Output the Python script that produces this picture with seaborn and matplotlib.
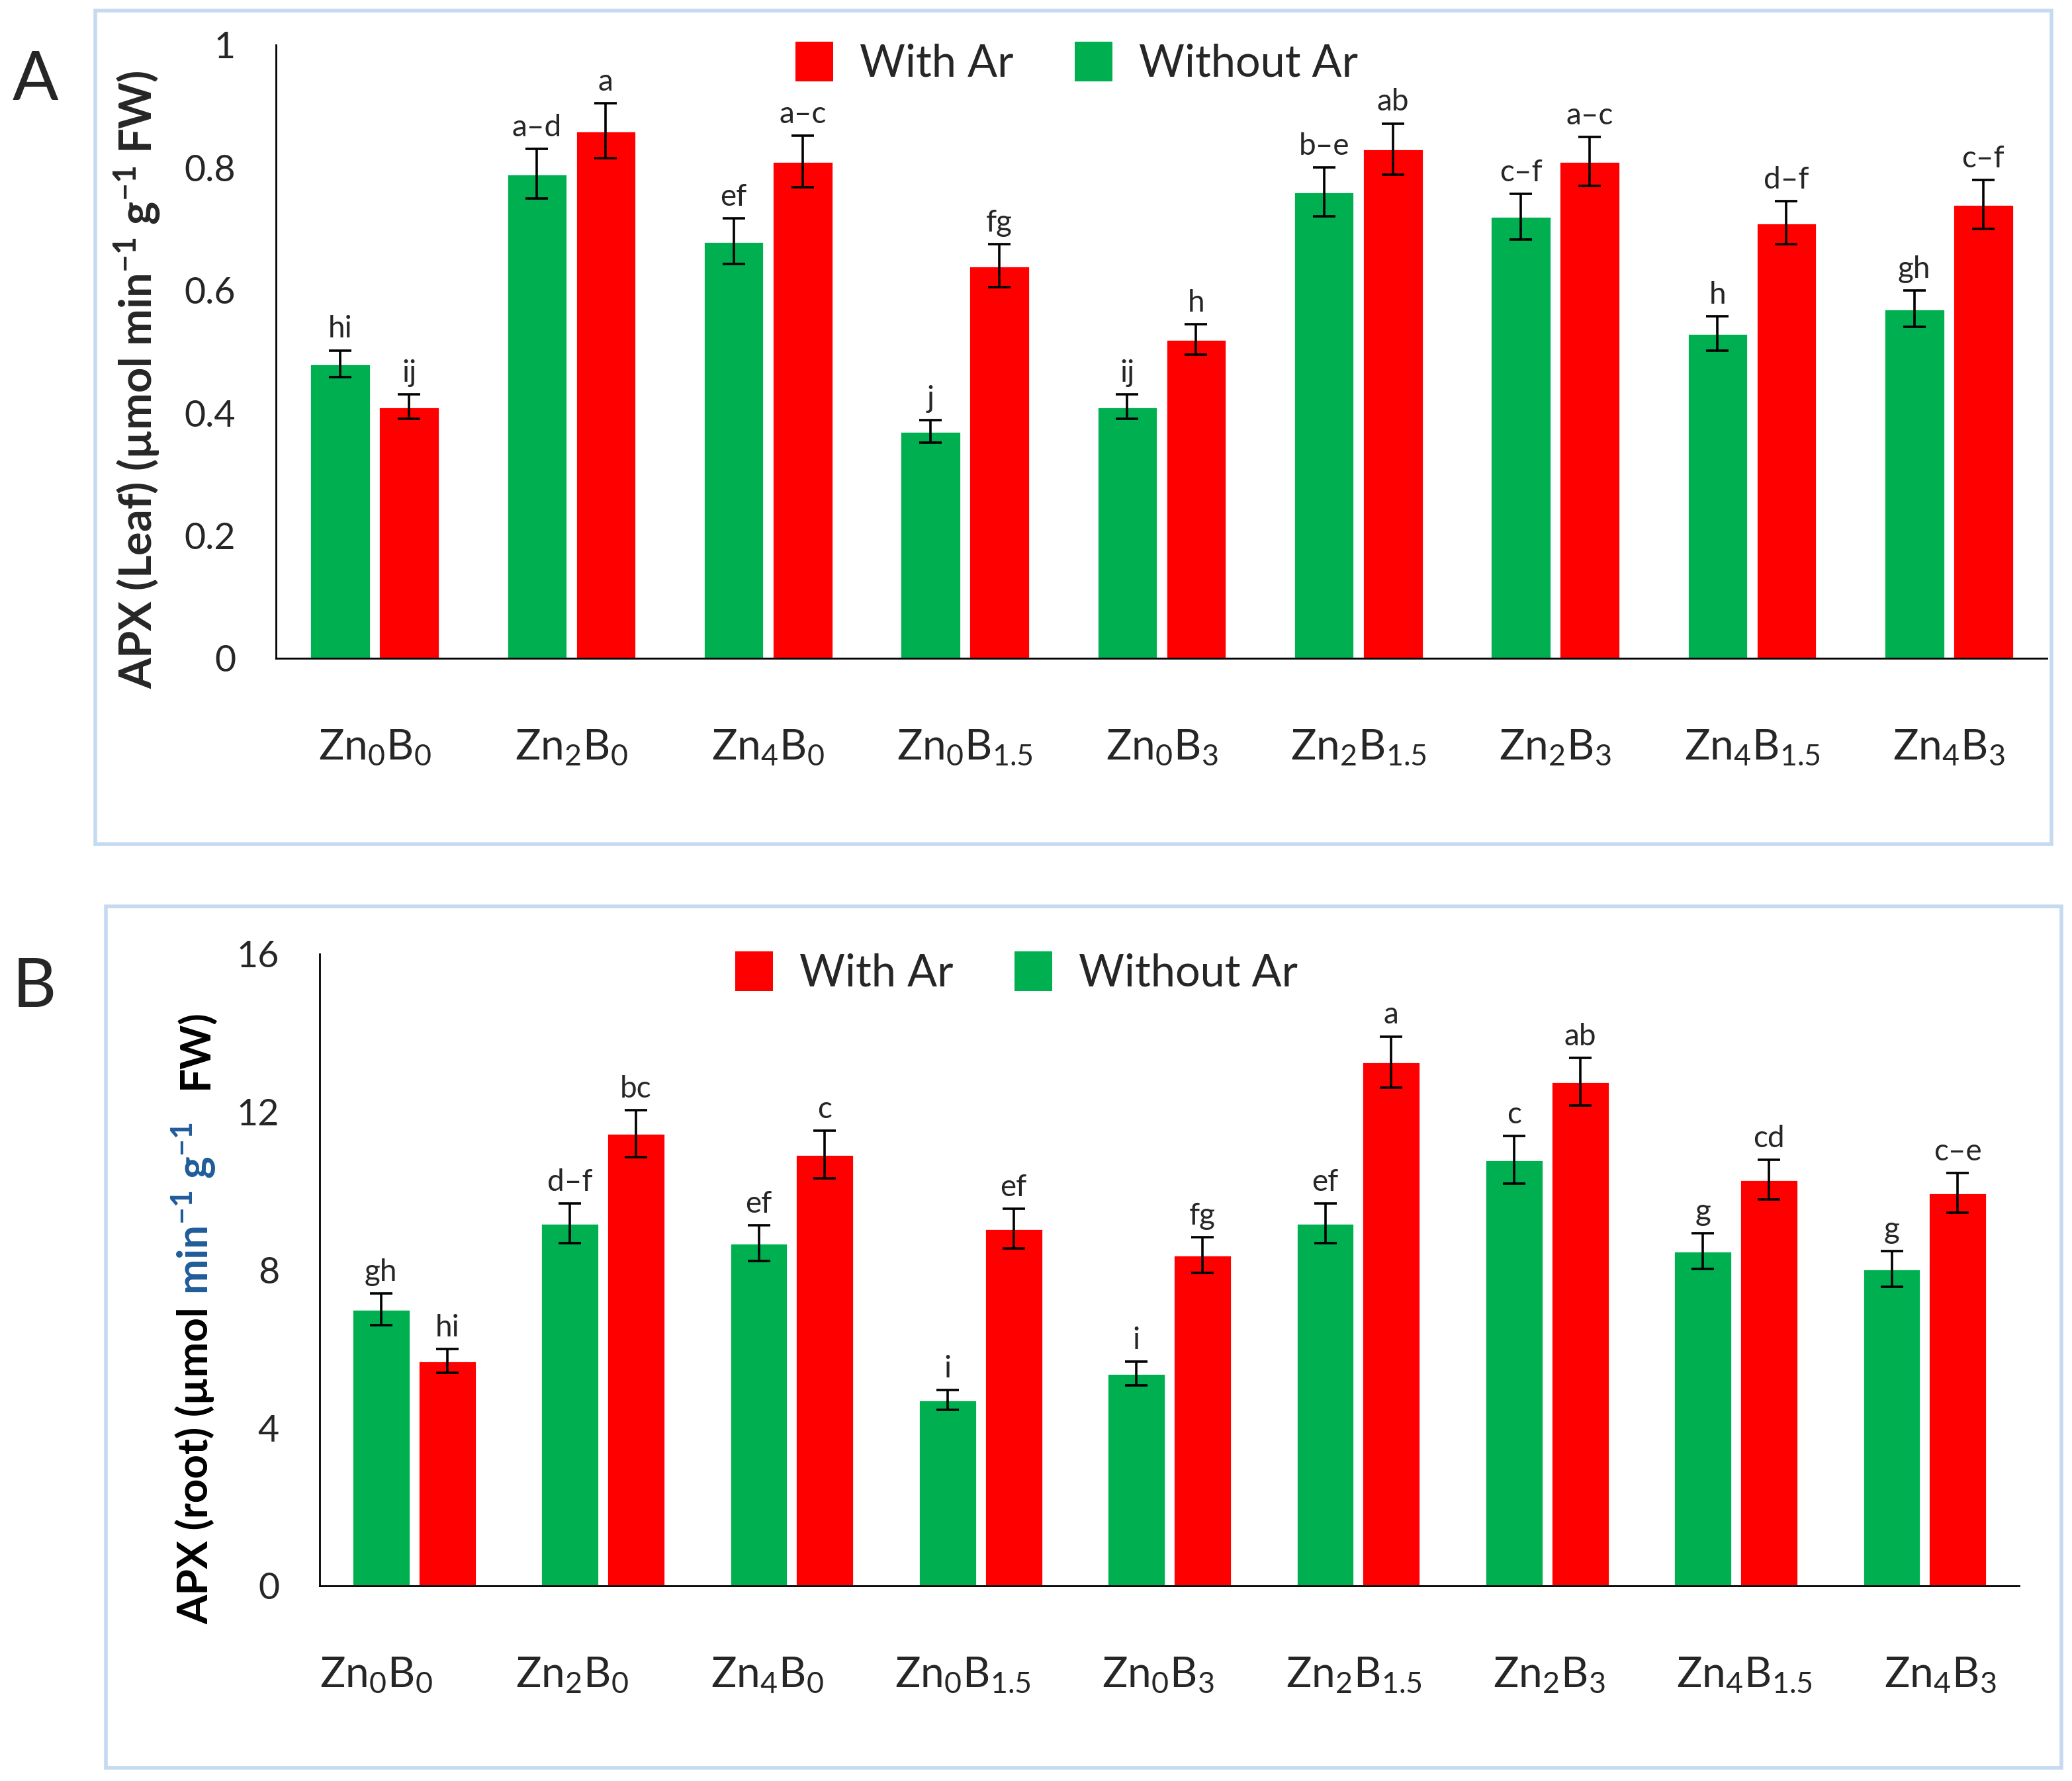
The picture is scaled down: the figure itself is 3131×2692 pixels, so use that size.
import pandas as pd
import numpy as np
import matplotlib
matplotlib.use("Agg")
import matplotlib.pyplot as plt
import seaborn as sns
from matplotlib.patches import Patch, Rectangle

treatments = [r"Zn$_0$B$_0$", r"Zn$_2$B$_0$", r"Zn$_4$B$_0$", r"Zn$_0$B$_{1.5}$", r"Zn$_0$B$_3$",
              r"Zn$_2$B$_{1.5}$", r"Zn$_2$B$_3$", r"Zn$_4$B$_{1.5}$", r"Zn$_4$B$_3$"]

leaf_without = [0.48, 0.79, 0.68, 0.37, 0.41, 0.76, 0.72, 0.53, 0.57]
leaf_with = [0.41, 0.86, 0.81, 0.64, 0.52, 0.83, 0.81, 0.71, 0.74]
leaf_without_err = [0.022, 0.04, 0.037, 0.018, 0.02, 0.04, 0.037, 0.028, 0.03]
leaf_with_err = [0.02, 0.045, 0.042, 0.035, 0.025, 0.042, 0.04, 0.035, 0.04]
leaf_without_let = ["hi", "a–d", "ef", "j", "ij", "b–e", "c–f", "h", "gh"]
leaf_with_let = ["ij", "a", "a–c", "fg", "h", "ab", "a–c", "d–f", "c–f"]

root_without = [7.0, 9.18, 8.68, 4.71, 5.38, 9.18, 10.79, 8.48, 8.02]
root_with = [5.7, 11.45, 10.92, 9.05, 8.38, 13.26, 12.76, 10.29, 9.95]
root_without_err = [0.4, 0.5, 0.45, 0.25, 0.3, 0.5, 0.6, 0.45, 0.45]
root_with_err = [0.3, 0.6, 0.6, 0.5, 0.45, 0.65, 0.6, 0.5, 0.5]
root_without_let = ["gh", "d–f", "ef", "i", "i", "ef", "c", "g", "g"]
root_with_let = ["hi", "bc", "c", "ef", "fg", "a", "ab", "cd", "c–e"]

GREEN = "#00b050"
RED = "#ff0000"
hue_order = ["Without Ar", "With Ar"]
palette = {"Without Ar": GREEN, "With Ar": RED}

sns.set_style("white")
plt.rcParams["font.family"] = ["Lato", "DejaVu Sans"]
plt.rcParams["mathtext.fontset"] = "custom"
plt.rcParams["mathtext.rm"] = "Lato"
plt.rcParams["mathtext.default"] = "regular"


def make_df(without, with_):
    return pd.DataFrame({
        "treatment": treatments * 2,
        "group": ["Without Ar"] * len(treatments) + ["With Ar"] * len(treatments),
        "value": list(without) + list(with_),
    })


def draw_panel(ax, df, errs, letters, ymax, yticks, ticklabels, legend_x):
    sns.barplot(data=df, x="treatment", y="value", hue="group", hue_order=hue_order,
                palette=palette, width=0.7, gap=0.12, errorbar=None, saturation=1,
                ax=ax, legend=False)
    for cont, err, lets in zip(ax.containers, errs, letters):
        xs = [p.get_x() + p.get_width() / 2 for p in cont]
        hs = [p.get_height() for p in cont]
        ax.errorbar(xs, hs, yerr=err, fmt="none", ecolor="black", elinewidth=1.3,
                    capsize=6, capthick=1.3, zorder=5)
        for x, h, e, s in zip(xs, hs, err, lets):
            ax.annotate(s, (x, h + e), xytext=(0, 4), textcoords="offset points",
                        ha="center", va="bottom", fontsize=16.5)
    ax.set_xlim(-0.5, len(treatments) - 0.5)
    ax.set_ylim(0, ymax)
    ax.set_yticks(yticks)
    ax.set_yticklabels(ticklabels)
    ax.set_xlabel("")
    ax.set_ylabel("")
    ax.tick_params(axis="x", length=0, pad=38, labelsize=23)
    ax.tick_params(axis="y", length=0, pad=22, labelsize=20)
    sns.despine(ax=ax)
    for sp in ["left", "bottom"]:
        ax.spines[sp].set_color("black")
        ax.spines[sp].set_linewidth(1.0)
    handles = [Patch(facecolor=RED, edgecolor="none"), Patch(facecolor=GREEN, edgecolor="none")]
    ax.legend(handles, ["With Ar", "Without Ar"], loc="center", bbox_to_anchor=(legend_x, 0.97),
              ncol=2, frameon=False, fontsize=24, handlelength=0.85, handleheight=1.0,
              handletextpad=0.6, columnspacing=1.4)


fig = plt.figure(figsize=(15.655, 13.46), dpi=200)

# panel frames
fig.add_artist(Rectangle((0.046, 0.526), 0.944, 0.468, transform=fig.transFigure,
                         fill=False, edgecolor="#c5daf0", linewidth=2))
fig.add_artist(Rectangle((0.051, 0.0074), 0.944, 0.4837, transform=fig.transFigure,
                         fill=False, edgecolor="#c5daf0", linewidth=2))

axA = fig.add_axes([0.1333, 0.6304, 0.8547, 0.3444])
draw_panel(axA, make_df(leaf_without, leaf_with),
           [leaf_without_err, leaf_with_err], [leaf_without_let, leaf_with_let],
           1.0, [0, 0.2, 0.4, 0.6, 0.8, 1.0], ["0", "0.2", "0.4", "0.6", "0.8", "1"], 0.452)
axA.set_ylabel(r"APX (Leaf) (µmol min$^{-1}$ g$^{-1}$ FW)", fontsize=24, fontweight="bold")
axA.yaxis.set_label_coords(-0.064, 0.454)

axB = fig.add_axes([0.1543, 0.1096, 0.8202, 0.3548])
draw_panel(axB, make_df(root_without, root_with),
           [root_without_err, root_with_err], [root_without_let, root_with_let],
           16, [0, 4, 8, 12, 16], ["0", "4", "8", "12", "16"], 0.41)
# in the original, panel B's category labels sit where panel A's do
axB.set_xticks(np.arange(len(treatments)) * 1.035 - 0.2, treatments)

# multicoloured y label for panel B
pieces = [("APX (root) (µmol", "black"), (r"min$^{-1}$ g$^{-1}$", "#1f5c99"), ("FW)", "black")]
renderer = fig.canvas.get_renderer()
fs = 23
gap_px = 0.28 * fs * fig.dpi / 72
texts = []
lengths = []
for s, c in pieces:
    t = fig.text(0, 0, s, rotation=90, rotation_mode="anchor", ha="left", va="baseline",
                 color=c, fontsize=fs, fontweight="bold")
    texts.append(t)
    lengths.append(t.get_window_extent(renderer).height)
total = sum(lengths) + gap_px * 3.8
fig_h = fig.get_figheight() * fig.dpi
fig_w = fig.get_figwidth() * fig.dpi
bb = axB.get_position()
center_y = (bb.y0 + 0.426 * bb.height) * fig_h
y = center_y - total / 2
base_x = 0.1003 * fig_w
for i, (t, L) in enumerate(zip(texts, lengths)):
    t.set_position((base_x / fig_w, y / fig_h))
    y += L + gap_px * (1.0 if i == 0 else 2.8)

fig.text(0.006, 0.972, "A", fontsize=37, va="top")
fig.text(0.006, 0.463, "B", fontsize=37, va="top")

fig.savefig("out.png", dpi=200)
plt.close(fig)
